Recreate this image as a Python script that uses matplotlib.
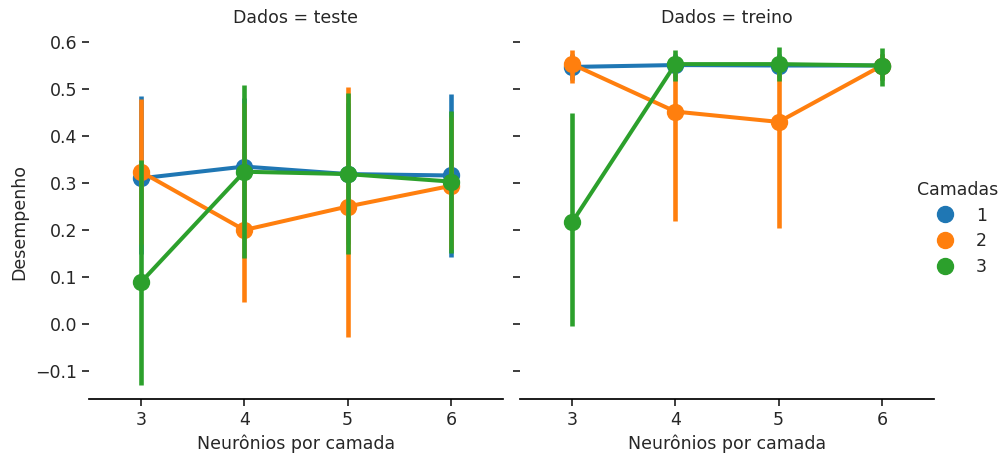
import matplotlib
matplotlib.use("Agg")
import matplotlib.pyplot as plt
from matplotlib.lines import Line2D

neuronios = [3, 4, 5, 6]
camadas = ["1", "2", "3"]
cores = ["#1f77b4", "#ff7f0e", "#2ca02c"]

# Dados = teste
teste_media = {
    "1": [0.310, 0.335, 0.319, 0.316],
    "2": [0.324, 0.200, 0.250, 0.294],
    "3": [0.089, 0.324, 0.319, 0.303],
}
teste_inf = {
    "1": [0.150, 0.180, 0.170, 0.143],
    "2": [0.170, 0.046, -0.028, 0.160],
    "3": [-0.130, 0.141, 0.149, 0.152],
}
teste_sup = {
    "1": [0.485, 0.480, 0.470, 0.489],
    "2": [0.478, 0.470, 0.505, 0.440],
    "3": [0.349, 0.508, 0.491, 0.453],
}

# Dados = treino
treino_media = {
    "1": [0.547, 0.551, 0.550, 0.550],
    "2": [0.553, 0.452, 0.430, 0.550],
    "3": [0.216, 0.553, 0.553, 0.550],
}
treino_inf = {
    "1": [0.520, 0.525, 0.525, 0.520],
    "2": [0.512, 0.219, 0.204, 0.520],
    "3": [-0.004, 0.516, 0.516, 0.506],
}
treino_sup = {
    "1": [0.575, 0.575, 0.575, 0.575],
    "2": [0.583, 0.560, 0.560, 0.575],
    "3": [0.448, 0.583, 0.590, 0.587],
}

titulos = ["Dados = teste", "Dados = treino"]
paineis = [(teste_media, teste_inf, teste_sup), (treino_media, treino_inf, treino_sup)]

FS = 12.5
plt.rcParams["font.family"] = "DejaVu Sans"
fig = plt.figure(figsize=(10.03, 4.55), dpi=100)
W, H = 1003, 455
ytop, ybot = 29.8, 399
axes = []
for i, x0 in enumerate([89.3, 520.3]):
    ax = fig.add_axes([x0 / W, 1 - ybot / H, 413.4 / W, (ybot - ytop) / H])
    axes.append(ax)

pos = list(range(len(neuronios)))
for i, ax in enumerate(axes):
    media, inf, sup = paineis[i]
    for j, c in enumerate(camadas):
        z = 2 + j
        ax.vlines(pos, inf[c], sup[c], color=cores[j], linewidth=3.3, zorder=z)
        ax.plot(pos, media[c], color=cores[j], linewidth=2.9, marker="o",
                markersize=11.5, zorder=z)
    ax.set_xlim(-0.5, 3.5)
    ax.set_ylim(-0.1596, 0.626)
    ax.set_xticks(pos)
    ax.set_xticklabels([str(n) for n in neuronios])
    ax.set_yticks([-0.1, 0.0, 0.1, 0.2, 0.3, 0.4, 0.5, 0.6])
    ax.set_yticklabels(["\u22120.1", "0.0", "0.1", "0.2", "0.3", "0.4", "0.5", "0.6"])
    for s in ["top", "right", "left"]:
        ax.spines[s].set_visible(False)
    ax.spines["bottom"].set_linewidth(1.25)
    ax.tick_params(axis="both", labelsize=FS, width=1.25, length=5, color="#262626",
                   labelcolor="#262626")
    ax.set_title(titulos[i], fontsize=FS, color="#262626", pad=5)
    ax.set_xlabel("Neurônios por camada", fontsize=FS, color="#262626", labelpad=4)
    if i == 0:
        ax.set_ylabel("Desempenho", fontsize=FS, color="#262626", labelpad=8)
        ax.yaxis.set_label_coords(-0.148, 0.48)
    else:
        ax.tick_params(axis="y", labelleft=False)

handles = [Line2D([], [], color=cores[j], marker="o", linestyle="", markersize=11.5)
           for j in range(len(camadas))]
leg = fig.legend(handles, camadas, title="Camadas", loc="center left",
                 bbox_to_anchor=(901 / W, 0.498), frameon=False, fontsize=FS,
                 title_fontsize=FS, handletextpad=0.8, labelspacing=0.45)
for t in leg.get_texts():
    t.set_color("#262626")
leg.get_title().set_color("#262626")

fig.savefig("out.png", dpi=100)
